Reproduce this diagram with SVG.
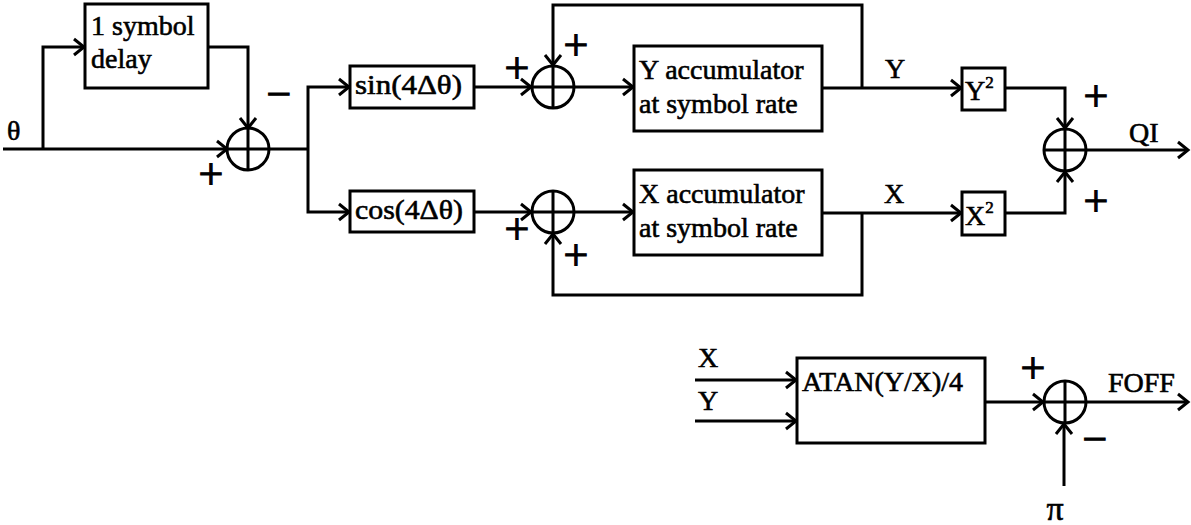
<svg xmlns="http://www.w3.org/2000/svg" width="1191" height="525" viewBox="0 0 1191 525">
  <style>
    .box { fill: #fff; stroke: #000; stroke-width: 3; }
    .sum { fill: none; stroke: #000; stroke-width: 3; }
    .wire { fill: none; stroke: #000; stroke-width: 3; }
    .arr { marker-end: url(#head); }
    text { font-family: "Liberation Serif", "Times New Roman", serif; font-size: 28px; fill: #000; stroke: #000; stroke-width: 0.6; }
    .sign { font-size: 44px; stroke-width: 1.2; }
    .mid { text-anchor: middle; }
    .sup { font-size: 17px; }
    .pi { font-size: 34px; }
  </style>
  <defs>
    <marker id="head" markerUnits="userSpaceOnUse" markerWidth="14" markerHeight="18" refX="12" refY="9" orient="auto" overflow="visible">
      <path d="M2,1 L12,9 L2,17" fill="none" stroke="#000" stroke-width="3"/>
    </marker>
    <!-- summing junction: circle with a cross -->
    <g id="junction">
      <circle r="21" class="sum"/>
      <path d="M-21,0 H21 M0,-21 V21" class="sum"/>
    </g>
  </defs>

  <rect width="1191" height="525" fill="#fff"/>

  <!-- connectors -->
  <g id="connectors">
    <!-- theta input and delay path -->
    <path class="wire arr" d="M3,149 H227"/>
    <path class="wire arr" d="M43,149 V47 H84"/>
    <path class="wire arr" d="M208,47 H248 V128"/>
    <!-- difference splits into sin / cos -->
    <path class="wire" d="M269,149 H308"/>
    <path class="wire arr" d="M308,149 V87 H349"/>
    <path class="wire arr" d="M308,149 V212 H349"/>
    <!-- Y branch -->
    <path class="wire arr" d="M474,87 H531"/>
    <path class="wire arr" d="M574,87 H633"/>
    <path class="wire arr" d="M822,88 H961"/>
    <path class="wire arr" d="M862,88 V5 H553 V65"/>
    <path class="wire arr" d="M1005,88 H1065 V128"/>
    <!-- X branch -->
    <path class="wire arr" d="M474,212 H531"/>
    <path class="wire arr" d="M574,212 H633"/>
    <path class="wire arr" d="M822,213 H961"/>
    <path class="wire arr" d="M862,213 V295 H553 V234"/>
    <path class="wire arr" d="M1005,213 H1065 V172"/>
    <!-- QI output -->
    <path class="wire arr" d="M1086,150 H1188"/>
    <!-- frequency offset path -->
    <path class="wire arr" d="M695,380 H796"/>
    <path class="wire arr" d="M695,421 H796"/>
    <path class="wire arr" d="M985,402 H1043"/>
    <path class="wire arr" d="M1086,402 H1188"/>
    <path class="wire arr" d="M1064,486 V424"/>
  </g>

  <!-- signal labels -->
  <g id="labels">
    <text x="7" y="140">θ</text>
    <text x="895" y="78" class="mid">Y</text>
    <text x="894" y="203" class="mid">X</text>
    <text x="1129" y="142">QI</text>
    <text x="698" y="367">X</text>
    <text x="698" y="410">Y</text>
    <text x="1108" y="392">FOFF</text>
    <text x="1055" y="520" class="mid pi">π</text>
  </g>

  <!-- sign labels at the junctions -->
  <g id="signs">
    <text x="279" y="109" class="sign mid">−</text>
    <text x="211" y="189" class="sign mid">+</text>
    <text x="517" y="83" class="sign mid">+</text>
    <text x="576" y="60" class="sign mid">+</text>
    <text x="517" y="244" class="sign mid">+</text>
    <text x="576" y="270" class="sign mid">+</text>
    <text x="1096" y="111" class="sign mid">+</text>
    <text x="1096" y="216" class="sign mid">+</text>
    <text x="1033" y="383" class="sign mid">+</text>
    <text x="1095" y="454" class="sign mid">−</text>
  </g>

  <g id="delay">
    <rect class="box" x="85" y="4" width="123" height="84"/>
    <text x="91" y="35">1 symbol</text>
    <text x="91" y="68">delay</text>
  </g>

  <g id="sum-diff"><use href="#junction" x="248" y="149"/></g>

  <g id="sin">
    <rect class="box" x="350" y="66" width="124" height="42"/>
    <text x="355" y="94" textLength="107" lengthAdjust="spacingAndGlyphs">sin(4Δθ)</text>
  </g>
  <g id="cos">
    <rect class="box" x="350" y="191" width="124" height="41"/>
    <text x="355" y="219" textLength="108" lengthAdjust="spacingAndGlyphs">cos(4Δθ)</text>
  </g>

  <g id="sum-y"><use href="#junction" x="553" y="87"/></g>
  <g id="sum-x"><use href="#junction" x="553" y="212"/></g>

  <g id="y-acc">
    <rect class="box" x="634" y="46" width="188" height="85"/>
    <text x="639" y="79">Y accumulator</text>
    <text x="639" y="113">at symbol rate</text>
  </g>
  <g id="x-acc">
    <rect class="box" x="634" y="170" width="188" height="85"/>
    <text x="639" y="203">X accumulator</text>
    <text x="639" y="237">at symbol rate</text>
  </g>

  <g id="y-sq">
    <rect class="box" x="962" y="68" width="43" height="42"/>
    <text x="965" y="100">Y<tspan class="sup" dy="-12">2</tspan></text>
  </g>
  <g id="x-sq">
    <rect class="box" x="962" y="192" width="43" height="43"/>
    <text x="965" y="225">X<tspan class="sup" dy="-12">2</tspan></text>
  </g>

  <g id="sum-qi"><use href="#junction" x="1065" y="150"/></g>

  <g id="atan">
    <rect class="box" x="797" y="358" width="188" height="85"/>
    <text x="802" y="391">ATAN(Y/X)/4</text>
  </g>

  <g id="sum-foff"><use href="#junction" x="1065" y="402"/></g>
</svg>
